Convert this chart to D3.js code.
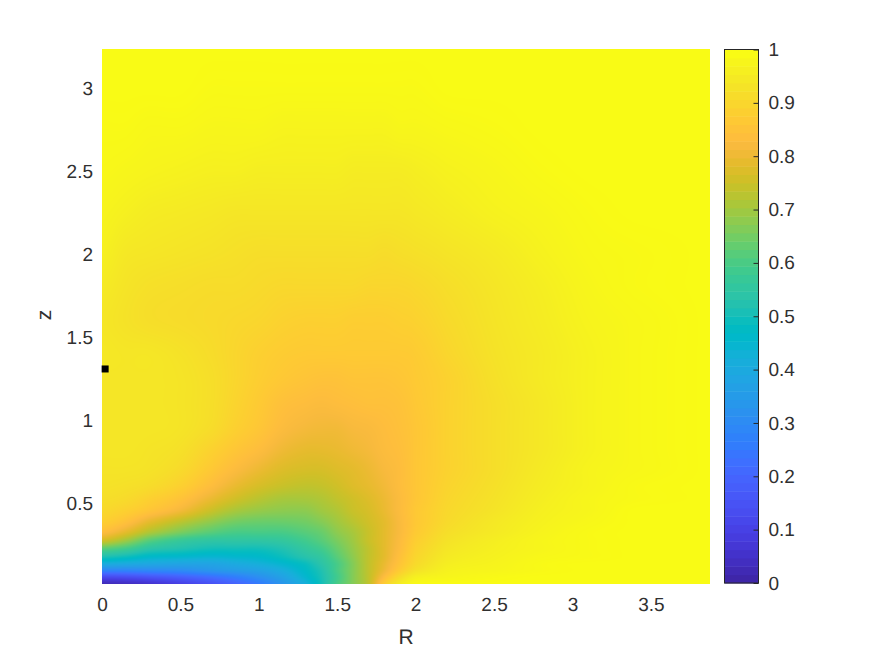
<!DOCTYPE html>
<html>
<head>
<meta charset="utf-8">
<script src="https://cdn.jsdelivr.net/npm/d3@7"></script>
<style>
    html, body {margin: 0; padding: 0; background: #fff;}
    text {font-family: "Liberation Sans", Arial, sans-serif; fill: #303030; text-rendering: geometricPrecision;}
</style>
</head>
<body>
<svg id="chart" width="875" height="656"></svg>
<script>
// grid positions (finer where the field changes fast)
const radii = [0, .15, .3, .5, .7, .85, 1, 1.15, 1.3, 1.4, 1.5, 1.6, 1.7, 1.8, 1.9, 2, 2.2, 2.5, 2.8, 3.1, 3.4, 3.877];
const heights = [.008, .05, .09, .13, .17, .22, .27, .32, .38, .45, .52, .6, .7, .82, .95, 1.1, 1.25, 1.4, 1.6, 1.8, 2, 2.25, 2.5, 2.75, 3, 3.235];

// one row per height, bottom to top
const field = [
    [.02, .03, .05, .09, .14, .19, .25, .33, .42, .5, .6, .67, .74, .88, .96, .995, 1, 1, 1, 1, 1, 1],
    [.12, .13, .15, .18, .22, .26, .31, .37, .45, .51, .59, .67, .74, .84, .92, .97, .985, .995, 1, 1, 1, 1],
    [.28, .28, .29, .3, .33, .35, .37, .41, .47, .52, .6, .67, .74, .81, .88, .935, .975, .985, .995, 1, 1, 1],
    [.41, .4, .39, .38, .38, .4, .42, .45, .49, .54, .6, .67, .74, .8, .86, .915, .965, .98, .995, 1, 1, 1],
    [.51, .49, .46, .45, .44, .45, .46, .49, .53, .56, .62, .68, .74, .79, .85, .905, .955, .975, .99, .995, 1, 1],
    [.62, .59, .54, .52, .5, .5, .5, .52, .56, .59, .64, .69, .74, .79, .84, .895, .945, .97, .985, .995, 1, 1],
    [.76, .7, .62, .57, .55, .55, .55, .56, .59, .62, .66, .7, .75, .79, .835, .885, .935, .965, .985, .995, 1, 1],
    [.84, .79, .72, .66, .62, .6, .6, .6, .62, .64, .68, .71, .75, .79, .83, .875, .925, .955, .98, .995, 1, 1],
    [.885, .85, .79, .73, .68, .65, .64, .64, .65, .67, .7, .73, .76, .79, .83, .87, .915, .95, .975, .99, 1, 1],
    [.91, .89, .86, .815, .75, .71, .69, .68, .68, .7, .72, .75, .77, .8, .835, .87, .91, .94, .97, .985, 1, 1],
    [.925, .915, .89, .855, .8, .76, .73, .71, .71, .72, .74, .76, .78, .805, .835, .865, .905, .935, .965, .985, .995, 1],
    [.935, .93, .92, .89, .84, .8, .77, .75, .74, .745, .76, .78, .795, .815, .84, .865, .9, .93, .96, .98, .995, 1],
    [.94, .94, .935, .915, .87, .835, .805, .78, .77, .77, .78, .79, .805, .825, .84, .865, .895, .925, .955, .98, .99, 1],
    [.945, .945, .94, .93, .895, .865, .84, .81, .795, .795, .8, .81, .82, .835, .845, .865, .895, .925, .95, .975, .99, 1],
    [.945, .945, .945, .94, .92, .89, .865, .835, .82, .815, .815, .825, .83, .84, .85, .865, .895, .925, .95, .975, .99, 1],
    [.945, .945, .945, .94, .925, .9, .875, .85, .84, .835, .84, .845, .85, .85, .855, .87, .895, .925, .95, .975, .99, 1],
    [.945, .945, .945, .94, .925, .905, .885, .87, .86, .855, .855, .86, .86, .86, .865, .875, .895, .93, .955, .975, .99, 1],
    [.95, .945, .945, .935, .92, .905, .89, .88, .875, .875, .875, .875, .875, .875, .875, .88, .905, .935, .955, .975, .99, 1],
    [.945, .935, .925, .92, .915, .91, .905, .895, .89, .89, .89, .885, .885, .885, .89, .895, .915, .94, .96, .98, .99, 1],
    [.955, .94, .93, .925, .92, .92, .915, .91, .91, .91, .91, .91, .905, .905, .905, .91, .925, .945, .965, .985, .995, 1],
    [.97, .95, .945, .94, .935, .93, .925, .925, .925, .925, .925, .925, .925, .92, .925, .93, .94, .955, .975, .99, .995, 1],
    [.98, .97, .96, .955, .95, .945, .945, .945, .945, .945, .945, .945, .945, .945, .945, .95, .96, .975, .985, .995, 1, 1],
    [.99, .985, .98, .975, .97, .97, .965, .965, .965, .965, .965, .96, .96, .96, .96, .965, .975, .985, .995, 1, 1, 1],
    [.995, .995, .99, .99, .985, .985, .985, .98, .98, .98, .98, .98, .98, .98, .985, .985, .99, .995, 1, 1, 1, 1],
    [1, 1, 1, 1, .995, .995, .995, .995, .995, .995, .995, .995, .995, .995, .995, .995, 1, 1, 1, 1, 1, 1],
    [1, 1, 1, 1, 1, 1, 1, 1, 1, 1, 1, 1, 1, 1, 1, 1, 1, 1, 1, 1, 1, 1]
];

const markerPoint = [0.02, 1.305];

const xTicks = [0, 0.5, 1, 1.5, 2, 2.5, 3, 3.5];
const yTicks = [0.5, 1, 1.5, 2, 2.5, 3];
const colorTicks = [0, .1, .2, .3, .4, .5, .6, .7, .8, .9, 1];

// matlab parula
const parula = [
    [.2422, .1504, .6603], [.2504, .165, .7076], [.2578, .1818, .7511], [.2647, .1978, .7952],
    [.2706, .2147, .8364], [.2751, .2342, .871], [.2783, .2559, .8991], [.2803, .2782, .9221],
    [.2813, .3006, .9414], [.281, .3228, .9579], [.2795, .3447, .9717], [.276, .3667, .9829],
    [.2699, .3892, .9906], [.2602, .4123, .9952], [.244, .4358, .9988], [.2206, .4603, .9973],
    [.1963, .4847, .9892], [.1834, .5074, .9798], [.1786, .5289, .9682], [.1764, .5499, .952],
    [.1687, .5703, .9359], [.154, .5902, .9218], [.146, .6091, .9079], [.138, .6276, .8973],
    [.1248, .6459, .8883], [.1113, .6635, .8763], [.0952, .6798, .8598], [.0689, .6948, .8394],
    [.0297, .7082, .8163], [.0036, .7203, .7917], [.0067, .7312, .766], [.0433, .7411, .7394],
    [.0964, .75, .712], [.1408, .7584, .6842], [.1717, .767, .6554], [.1938, .7758, .6251],
    [.2161, .7843, .5923], [.247, .7918, .5567], [.2906, .7973, .5188], [.3406, .8008, .4789],
    [.3909, .8029, .4354], [.4456, .8024, .3909], [.5044, .7993, .348], [.5616, .7942, .3045],
    [.6174, .7876, .2612], [.672, .7793, .2227], [.7242, .7698, .191], [.7738, .7598, .1646],
    [.8203, .7498, .1535], [.8634, .7406, .1596], [.9035, .733, .1774], [.9393, .7288, .21],
    [.9728, .7298, .2394], [.9956, .7434, .2371], [.997, .7659, .2199], [.9952, .7893, .2028],
    [.9892, .8136, .1885], [.9786, .8386, .1766], [.9676, .8639, .1643], [.961, .889, .1537],
    [.9597, .9135, .1423], [.9628, .9373, .1265], [.9691, .9606, .1064], [.9769, .9839, .0805]
].map(c => d3.rgb(c[0] * 255, c[1] * 255, c[2] * 255));

const plot = {left: 102, right: 710, top: 49, bottom: 584};
const bar = {left: 724.5, right: 758.5, top: 49.5, bottom: 583};

const x = d3.scaleLinear().domain([0, 3.877]).range([plot.left, plot.right]);
const y = d3.scaleLinear().domain([.008, 3.235]).range([plot.bottom, plot.top]);
const c = d3.scaleLinear().domain([0, 1]).range([bar.bottom, bar.top]);

const color = d3.scaleLinear()
    .domain(parula.map((d, i) => i / (parula.length - 1)))
    .range(parula)
    .clamp(true);

// fractional grid index for a data position
const radiusIndex = d3.scaleLinear().domain(radii).range(radii.map((d, i) => i)).clamp(true);
const heightIndex = d3.scaleLinear().domain(heights).range(heights.map((d, i) => i)).clamp(true);

const catmull = (a, b, c, d, t) =>
    b + 0.5 * t * (c - a + t * (2 * a - 5 * b + 4 * c - d + t * (3 * (b - c) + d - a)));

function fieldAt(i, j) {
    const i0 = Math.min(Math.floor(i), radii.length - 2);
    const j0 = Math.min(Math.floor(j), heights.length - 2);
    const column = k => {
        const row = field[Math.max(0, Math.min(heights.length - 1, k))];
        return catmull(
            row[Math.max(0, i0 - 1)], row[i0], row[i0 + 1],
            row[Math.min(radii.length - 1, i0 + 2)], i - i0
        );
    };
    return catmull(column(j0 - 1), column(j0), column(j0 + 1), column(j0 + 2), j - j0);
}

function fieldImage() {
    const w = plot.right - plot.left;
    const h = plot.bottom - plot.top;
    const canvas = document.createElement("canvas");
    canvas.width = w;
    canvas.height = h;
    const ctx = canvas.getContext("2d");
    const image = ctx.createImageData(w, h);
    for (let py = 0; py < h; py++) {
        const j = heightIndex(y.invert(plot.top + py + .5));
        for (let px = 0; px < w; px++) {
            const i = radiusIndex(x.invert(plot.left + px + .5));
            const col = d3.rgb(color(fieldAt(i, j)));
            const k = (py * w + px) * 4;
            image.data[k] = col.r;
            image.data[k + 1] = col.g;
            image.data[k + 2] = col.b;
            image.data[k + 3] = 255;
        }
    }
    ctx.putImageData(image, 0, 0);
    return canvas.toDataURL();
}

const svg = d3.select("#chart");

svg.append("image")
    .attr("x", plot.left)
    .attr("y", plot.top)
    .attr("width", plot.right - plot.left)
    .attr("height", plot.bottom - plot.top)
    .attr("href", fieldImage());

svg.append("rect")
    .attr("x", x(markerPoint[0]) - 3.5)
    .attr("y", y(markerPoint[1]) - 3.5)
    .attr("width", 7)
    .attr("height", 7)
    .attr("fill", "#000");

// axes: the picture covers the axis lines and the ticks, only labels are left
const xAxis = svg.append("g")
    .attr("transform", `translate(0,${plot.bottom})`)
    .call(d3.axisBottom(x).tickValues(xTicks).tickFormat(d3.format("~g")).tickSize(0).tickPadding(14));
const yAxis = svg.append("g")
    .attr("transform", `translate(${plot.left},0.5)`)
    .call(d3.axisLeft(y).tickValues(yTicks).tickFormat(d3.format("~g")).tickSize(0).tickPadding(9));
[xAxis, yAxis].forEach(axis => {
    axis.attr("font-family", null);
    axis.select(".domain").remove();
    axis.selectAll("text").style("font-size", "19px");
});

svg.append("text")
    .attr("x", 406)
    .attr("y", 644)
    .attr("text-anchor", "middle")
    .style("font-size", "21px")
    .text("R");

svg.append("text")
    .attr("transform", "translate(51,315) rotate(-90)")
    .attr("text-anchor", "middle")
    .style("font-size", "21px")
    .text("z");

// colorbar
const barRows = d3.range(64);
svg.append("g")
    .selectAll("rect")
    .data(barRows)
    .join("rect")
    .attr("x", bar.left)
    .attr("y", d => c((d + 1) / 64))
    .attr("width", bar.right - bar.left)
    .attr("height", d => c(d / 64) - c((d + 1) / 64) + .5)
    .attr("fill", d => parula[d]);

svg.append("rect")
    .attr("x", bar.left)
    .attr("y", bar.top)
    .attr("width", bar.right - bar.left)
    .attr("height", bar.bottom - bar.top)
    .attr("fill", "none")
    .attr("stroke", "#262626")
    .attr("stroke-width", 1);

const barAxis = svg.append("g")
    .attr("transform", `translate(${bar.right},0)`)
    .attr("font-family", null)
    .call(d3.axisRight(c).tickValues(colorTicks).tickFormat(d3.format("~g")).tickSize(-5).tickPadding(10));
barAxis.select(".domain").remove();
barAxis.selectAll("line").attr("stroke", "#262626");
barAxis.selectAll("text").style("font-size", "19px");
</script>
</body>
</html>
